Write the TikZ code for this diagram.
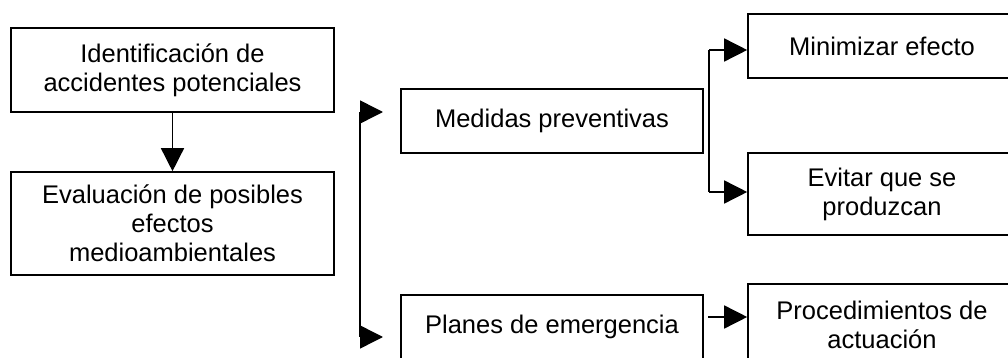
\documentclass[tikz,border=0pt]{standalone}
\usepackage{fontspec}
\setmainfont{Liberation Sans}
\usetikzlibrary{arrows.meta}
\begin{document}
\begin{tikzpicture}[x=0.5pt,y=-0.5pt,
  box/.style={draw=black,line width=0.8pt,fill=white,align=center,inner sep=0pt,
    font=\fontsize{12.75}{14.5}\selectfont},
  arr/.style={line width=0.75pt,-{Triangle[length=11.5pt,width=11.5pt]}},
  ln/.style={line width=0.75pt}]
\useasboundingbox (0,0) rectangle (1008,358);
\node[box,minimum width=161.5pt,minimum height=42pt] (ident) at (172.5,70) {Identificación de\\accidentes potenciales};
\node[box,minimum width=161.5pt,minimum height=51.5pt] (evalu) at (172.5,223.5) {Evaluación de posibles\\efectos\\medioambientales};
\node[box,minimum width=151pt,minimum height=32pt] (medidas) at (552,121) {Medidas preventivas};
\node[box,minimum width=151pt,minimum height=32pt] (planes) at (552,327) {Planes de emergencia};
\node[box,minimum width=134pt,minimum height=32pt] (minim) at (882,46) {Minimizar efecto};
\node[box,minimum width=134pt,minimum height=41pt] (evitar) at (882,194) {Evitar que se\\produzcan};
\node[box,minimum width=134pt,minimum height=41pt] (proc) at (882,325) {Procedimientos de\\actuación};
% left arrow
\draw[arr] (ident.south) -- (evalu.north);
% bracket
\coordinate (bt) at (360,112);
\coordinate (bb) at (360,337);
\coordinate (btt) at (383,112);
\coordinate (bbt) at (383,337);
\draw[ln] (bt) -- (bb);
\draw[arr] (bt) -- (btt);
\draw[arr] (bb) -- (bbt);
% fork from medidas
\coordinate (f1) at (709,50);
\coordinate (f2) at (709,192);
\draw[ln] (f1) -- (f2);
\draw[arr] (f1) -- (f1 -| minim.west);
\draw[arr] (f2) -- (f2 -| evitar.west);
% planes to procedimientos
\coordinate (p1) at (708,317);
\draw[arr] (p1) -- (p1 -| proc.west);
\end{tikzpicture}
\end{document}
